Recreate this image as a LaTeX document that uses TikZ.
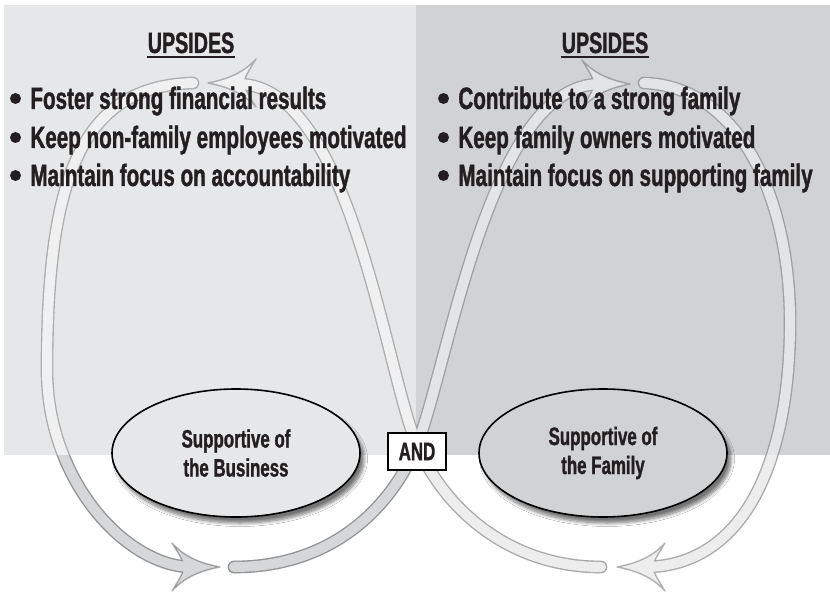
\documentclass[tikz,border=0pt]{standalone}
\usepackage{fontspec}
\newfontfamily\dinfont{Liberation Sans}[FakeStretch=0.67, FakeBold=1.2]
\usetikzlibrary{shapes.geometric,shadows.blur}

\definecolor{panelL}{HTML}{E6E7E8}
\definecolor{panelR}{HTML}{D1D2D4}
\definecolor{inkc}{HTML}{231F20}
\definecolor{bandline}{HTML}{555658}
\definecolor{underL}{HTML}{BCBDBE}
\definecolor{underR}{HTML}{E1E1E2}

% the four arcs of the figure eight
\newcommand{\bandpath}{(193,83) .. controls (80,86) and (47,180) .. (47,370) .. controls (47,480) and (125,565) .. (190,567)
  (234,567) .. controls (330,567) and (390,510) .. (417,445) .. controls (450,360) and (490,84) .. (600,84)
  (644,83) .. controls (740,86) and (792,200) .. (790,330) .. controls (788,470) and (740,565) .. (647,567)
  (601,567) .. controls (510,567) and (445,510) .. (417,445) .. controls (385,370) and (350,84) .. (238,84)}
% arrow head, tip at the origin, pointing to +x
\newcommand{\headshape}{(0,0) .. controls (-20,-4) and (-35,-10) .. (-48,-24)
  .. controls (-42,-14) and (-37,-7) .. (-36,0) .. controls (-37,7) and (-42,14) .. (-48,24)
  .. controls (-35,10) and (-20,4) .. (0,0) -- cycle}

\begin{document}
\begin{tikzpicture}[x=0.5pt,y=-0.5pt,
  every node/.style={text=inkc, inner sep=0pt},
  heading/.style={anchor=base, font=\dinfont\bfseries\fontsize{14.7}{17}\selectfont},
  item/.style={anchor=base west, font=\dinfont\bfseries\fontsize{15.4}{19}\selectfont},
  dot/.style={circle, fill=inkc, minimum size=5.5pt},
  goal/.style={ellipse, draw=black, line width=0.8pt, minimum width=124pt, minimum height=64pt,
    align=center, font=\dinfont\bfseries\fontsize{12.6}{14.5}\selectfont,
    blur shadow={shadow xshift=2pt, shadow yshift=-3pt, shadow opacity=55, shadow blur steps=8}},
  andbox/.style={draw=black, fill=white, line width=1.1pt, minimum width=29pt, minimum height=18.5pt,
    font=\dinfont\bfseries\fontsize{12.6}{14}\selectfont},
  shaftout/.style={draw=bandline, line width=6.35pt, line cap=round},
  shaftin/.style={draw=white, line width=5pt, line cap=round},
  headfill/.style={fill=white, draw=bandline, line width=0.7pt, line join=round}]

\useasboundingbox[fill=white] (0,0) rectangle (830,593);
\fill[panelL] (4,5) rectangle (416,455);
\fill[panelR] (416,5) rectangle (830,455);

\coordinate (tipTL) at (208,83);
\coordinate (tipTR) at (630,84);
\coordinate (tipBL) at (220,567);
\coordinate (tipBR) at (617,567);

% band shade below the panels
\begin{scope}
  \clip (0,455) rectangle (416,593);
  \draw[underL, line width=6.35pt, line cap=round] \bandpath;
  \fill[underL, shift={(tipBL)}] \headshape;
\end{scope}
\begin{scope}
  \clip (416,455) rectangle (830,593);
  \draw[underR, line width=6.35pt, line cap=round] \bandpath;
  \fill[underR, shift={(tipBR)}, xscale=-1] \headshape;
\end{scope}

% the figure eight
\begin{scope}[transparency group, opacity=0.4]
  \draw[shaftout] \bandpath;
  \filldraw[headfill, shift={(tipTL)}, xscale=-1] \headshape;
  \filldraw[headfill, shift={(tipTR)}] \headshape;
  \filldraw[headfill, shift={(tipBL)}] \headshape;
  \filldraw[headfill, shift={(tipBR)}, xscale=-1] \headshape;
  \draw[shaftin] \bandpath;
\end{scope}

\node[goal, fill=panelL] (bus) at (236,453) {Supportive of\\the Business};
\node[goal, fill=panelR] (fam) at (603,453) {Supportive of\\the Family};
\node[andbox] (and) at (417,451.5) {AND};

\node[heading] (upL) at (191,53) {UPSIDES};
\node[heading] (upR) at (605,53) {UPSIDES};
\draw[inkc, line width=0.75pt] ([yshift=-2pt]upL.base west) -- ([yshift=-2pt]upL.base east);
\draw[inkc, line width=0.75pt] ([yshift=-2pt]upR.base west) -- ([yshift=-2pt]upR.base east);

\node[dot] (dl1) at (15.5,98.5) {};
\node[dot] (dl2) at (15.5,137.5) {};
\node[dot] (dl3) at (15.5,175.5) {};
\node[item] (l1) at (30,109) {Foster strong financial results};
\node[item] (l2) at (30,148) {Keep non-family employees motivated};
\node[item] (l3) at (30,186) {Maintain focus on accountability};

\node[dot] (dr1) at (443.5,98.5) {};
\node[dot] (dr2) at (443.5,137.5) {};
\node[dot] (dr3) at (443.5,175.5) {};
\node[item] (r1) at (458,109) {Contribute to a strong family};
\node[item] (r2) at (458,148) {Keep family owners motivated};
\node[item] (r3) at (458,186) {Maintain focus on supporting family};
\end{tikzpicture}
\end{document}
